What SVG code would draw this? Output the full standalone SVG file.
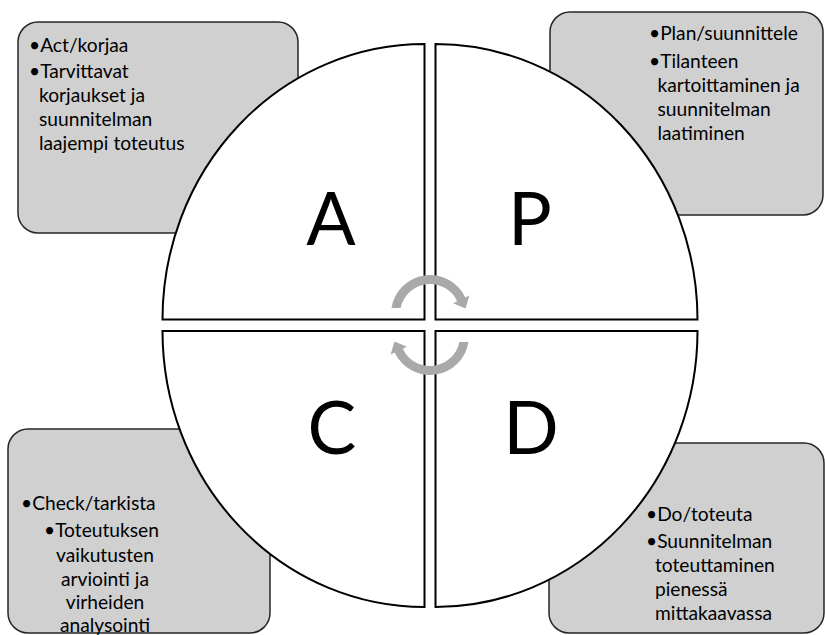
<svg xmlns="http://www.w3.org/2000/svg" width="825" height="635" viewBox="0 0 825 635">
  <style>
    .box { fill: #d0d0d0; stroke: #262626; stroke-width: 1.5; }
    .quad { fill: #ffffff; stroke: #000000; stroke-width: 2; }
    .txt { font-family: Lato, "Liberation Sans", sans-serif; font-size: 19.2px; fill: #000000; }
    .big { font-family: Lato, "Liberation Sans", sans-serif; font-size: 73px; fill: #000000; text-anchor: middle; }
    .cyc { fill: #a9a9a9; }
  </style>
  <defs>
    <!-- clockwise arc arrow around the centre, upper half -->
    <path id="cycleArrow" d="M391.5,308 A39,39 0 0 1 465.3,297.5 L469.4,295.6 L465.5,308.5 L453.1,303.2 L457.2,301.3 A30,30 0 0 0 400.6,308 Z"/>
  </defs>
  <rect width="825" height="635" fill="#ffffff"/>

  <!-- description boxes (behind the wheel) -->
  <g id="box-act">
    <rect class="box" x="18" y="22" width="280" height="211" rx="20"/>
    <text class="txt" x="29" y="52">•Act/korjaa</text>
    <text class="txt"><tspan x="29" y="78">•Tarvittavat</tspan><tspan x="39" y="102">korjaukset ja</tspan><tspan x="39" y="126">suunnitelman</tspan><tspan x="39" y="150">laajempi toteutus</tspan></text>
  </g>
  <g id="box-plan">
    <rect class="box" x="550" y="12" width="273" height="203" rx="20"/>
    <text class="txt" x="649" y="40">•Plan/suunnittele</text>
    <text class="txt"><tspan x="649" y="68">•Tilanteen</tspan><tspan x="657.5" y="92">kartoittaminen ja</tspan><tspan x="657.5" y="116">suunnitelman</tspan><tspan x="657.5" y="140">laatiminen</tspan></text>
  </g>
  <g id="box-check">
    <rect class="box" x="8" y="429" width="262" height="204" rx="20"/>
    <text class="txt" x="21" y="510">•Check/tarkista</text>
    <text class="txt" x="44" y="537">•Toteutuksen</text>
    <text class="txt" text-anchor="middle"><tspan x="105" y="562">vaikutusten</tspan><tspan x="105" y="586">arviointi ja</tspan><tspan x="105" y="609">virheiden</tspan><tspan x="105" y="632">analysointi</tspan></text>
  </g>
  <g id="box-do">
    <rect class="box" x="549" y="443" width="275" height="190" rx="20"/>
    <text class="txt" x="646" y="521">•Do/toteuta</text>
    <text class="txt"><tspan x="646" y="548">•Suunnitelman</tspan><tspan x="655" y="572">toteuttaminen</tspan><tspan x="655" y="596">pienessä</tspan><tspan x="655" y="620">mittakaavassa</tspan></text>
  </g>

  <!-- wheel quadrants -->
  <g id="quad-a">
    <path class="quad" d="M424.5,319.5 L424.5,44 A262,275.5 0 0 0 162.5,319.5 Z"/>
    <text class="big" x="331" y="245">A</text>
  </g>
  <g id="quad-p">
    <path class="quad" d="M435.5,319.5 L435.5,44 A262,275.5 0 0 1 697.5,319.5 Z"/>
    <text class="big" x="530" y="245">P</text>
  </g>
  <g id="quad-c">
    <path class="quad" d="M424.5,331 L424.5,607 A262,276 0 0 1 162.5,331 Z"/>
    <text class="big" x="332" y="454">C</text>
  </g>
  <g id="quad-d">
    <path class="quad" d="M435.5,331 L435.5,607 A262,276 0 0 0 697.5,331 Z"/>
    <text class="big" x="531" y="454">D</text>
  </g>

  <!-- cycle arrows -->
  <g id="connectors">
    <use href="#cycleArrow" class="cyc"/>
    <use href="#cycleArrow" class="cyc" transform="rotate(180 430 325)"/>
  </g>
</svg>
